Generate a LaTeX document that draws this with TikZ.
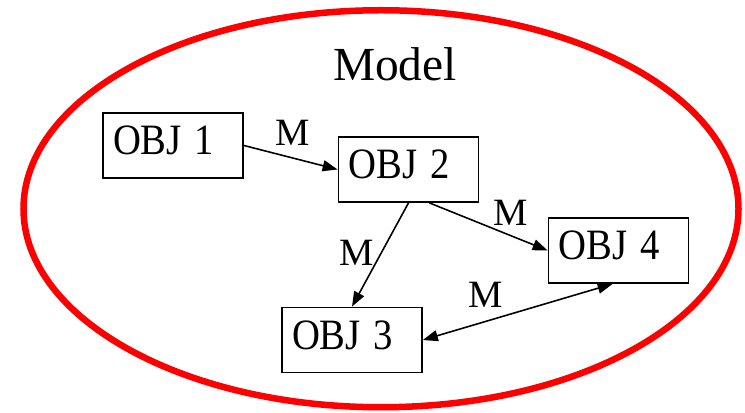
\documentclass[tikz,border=0pt]{standalone}
\usepackage{fontspec}
\setmainfont{Liberation Serif}
\usetikzlibrary{arrows.meta}
\definecolor{ringred}{HTML}{FF0000}

% box labels are set a little taller than the plain font
\newcommand{\objtext}[1]{\scalebox{1}[1.12]{#1}}

\tikzset{
  objbox/.style={draw=black, line width=1pt, fill=white, text width=2.4cm, inner xsep=0.2cm,
    inner ysep=0.1cm, text height=0.6cm, text depth=0.22cm,
    minimum height=1.3cm, align=left, font=\fontsize{22}{24}\selectfont},
  msg/.style={font=\fontsize{22}{24}\selectfont, inner sep=0pt},
  link/.style={line width=0.9pt},
}

\begin{document}
\begin{tikzpicture}[x=1cm,y=1cm, >={Triangle[length=0.3cm, width=0.22cm]}]
\useasboundingbox (0,0) rectangle (14.9,8.26);
% the model boundary
\draw[ringred, line width=0.13cm] (7.62,4.085) ellipse [x radius=7.15, y radius=3.97];
\node[font=\fontsize{27}{30}\selectfont, inner sep=0pt] (model) at (7.9,6.97) {Model};

% objects
\node[objbox] (obj1) at (3.46,5.35) {\objtext{OBJ 1}};
\node[objbox] (obj2) at (8.17,4.87) {\objtext{OBJ 2}};
\node[objbox] (obj4) at (12.37,3.25) {\objtext{OBJ 4}};
\node[objbox] (obj3) at (7.04,1.46) {\objtext{OBJ 3}};

% messages
\draw[link, ->] (obj1.east) -- (obj2.west);
\draw[link, ->] (obj2.south) -- (obj3.north);
\draw[link, ->] (obj2.-58) -- (obj4.west);
\draw[link, <->] (obj3.east) -- (obj4.-100);

\node[msg] (m12) at (5.86,5.6) {M};
\node[msg] (m23) at (7.14,3.2) {M};
\node[msg] (m24) at (10.22,4.0) {M};
\node[msg] (m34) at (9.72,2.36) {M};
\end{tikzpicture}
\end{document}
